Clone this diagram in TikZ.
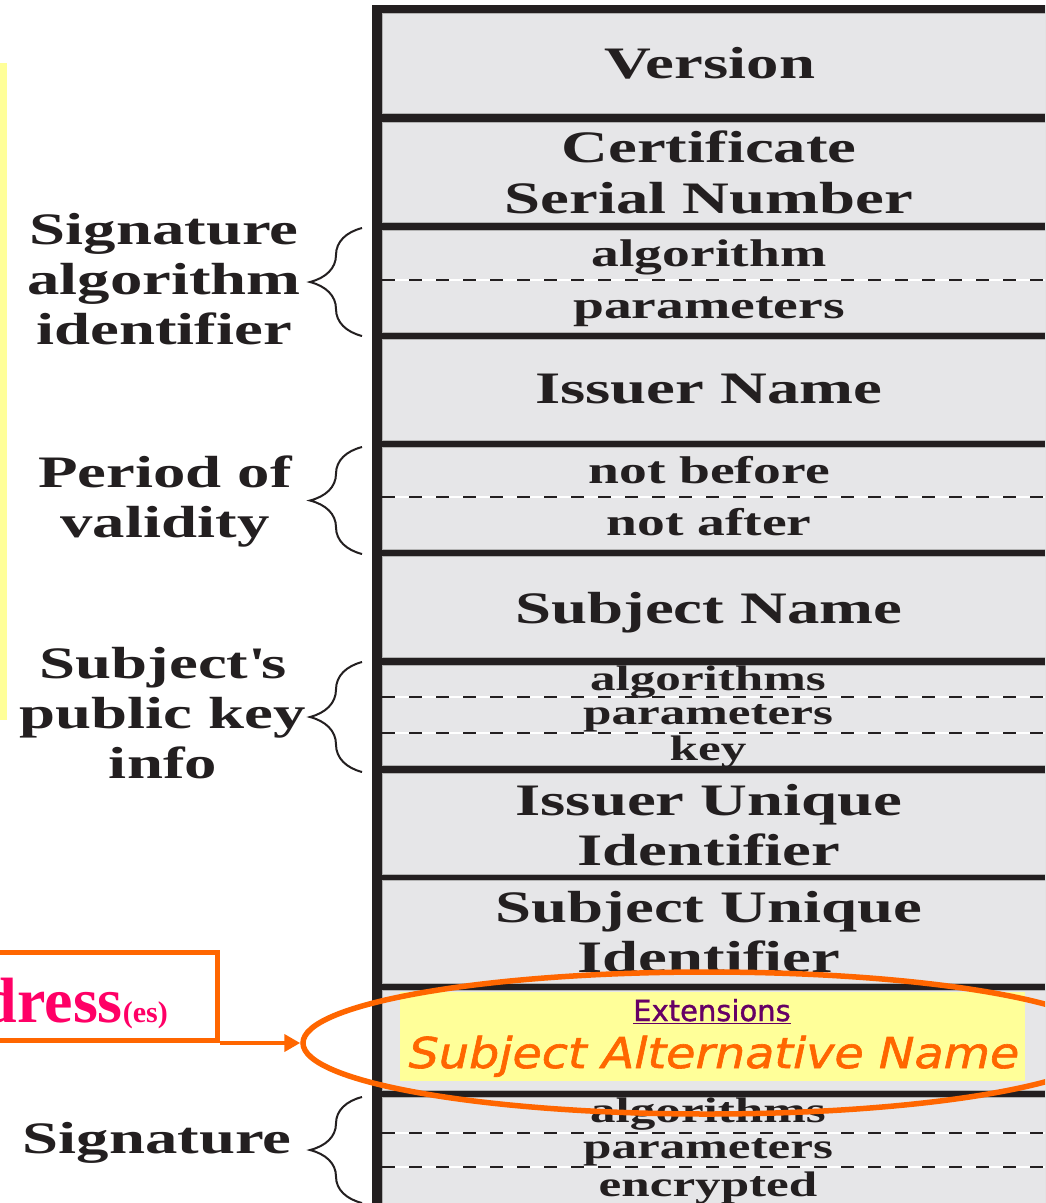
\documentclass[tikz,border=0pt]{standalone}
\usepackage{fontspec}
\newfontfamily\tabfont[FakeStretch=1.44]{Liberation Serif}
\newfontfamily\plainfont{Liberation Serif}
\newfontfamily\extfont[FakeBold=1.2]{DejaVu Sans}
\newfontfamily\sanfont[FakeStretch=1.12, FakeBold=1.5]{DejaVu Sans}
\usetikzlibrary{positioning,arrows.meta,shapes.geometric,decorations.pathreplacing}

\definecolor{ink}{HTML}{231F20}
\definecolor{cellgray}{HTML}{E6E6E8}
\definecolor{hiyellow}{HTML}{FFFF99}
\definecolor{markorange}{HTML}{FF6600}
\definecolor{addrpink}{HTML}{FF0066}
\definecolor{extpurple}{HTML}{660066}

\begin{document}
\begin{tikzpicture}[x=1pt, y=-1pt,
  cell/.style={fill=cellgray, draw=gray!60, line width=1pt},
  bigtext/.style={font=\tabfont\bfseries\fontsize{45}{50}\selectfont, text=ink, inner sep=0, anchor=base, align=center},
  midtext/.style={font=\tabfont\bfseries\fontsize{38.6}{40}\selectfont, text=ink, inner sep=0, anchor=base},
  smalltext/.style={font=\tabfont\bfseries\fontsize{35.5}{36}\selectfont, text=ink, inner sep=0, anchor=base},
  curly/.style={decorate, decoration={brace, amplitude=52pt}, line width=2pt, draw=ink},
  dashsep/.style={ink, line width=2pt, dash pattern=on 13pt off 14pt},
  orangeline/.style={draw=markorange, line width=5.5pt},
  exthead/.style={font=\extfont\fontsize{29}{32}\selectfont, text=extpurple, inner sep=0, anchor=base},
  extname/.style={font=\sanfont\itshape\fontsize{42.5}{46}\selectfont, text=markorange, inner sep=0, anchor=base},
  addrtext/.style={font=\plainfont\bfseries\fontsize{64}{70}\selectfont, text=addrpink, inner sep=0, anchor=base east}
]
\useasboundingbox (0,0) rectangle (1045,1203);
\clip (0,0) rectangle (1045,1203);

% yellow strip at the left edge
\fill[hiyellow] (0,63) rectangle (7,720);

% certificate fields
\fill[ink] (372,5) rectangle (1080,1230);
\foreach \ya/\yb in {13/113,122/222,230/332,339/440,447/549,556/657,665/765,773/874,880/983,990/1090,1097/1230}
  \draw[cell] (382,\ya) rectangle (1080,\yb);
\foreach \y in {280,497,697,733,1133,1167}{
  \draw[white, line width=2pt] (382,\y) -- (1080,\y);
  \draw[dashsep] (382,\y) -- (1080,\y);
}

\node[bigtext] (ver) at (710,78) {Version};
\node[bigtext] (cert) at (709,162) {Certificate};
\node[bigtext] (serial) at (709,213) {Serial Number};
\node[midtext] (sigalg) at (709,266) {algorithm};
\node[midtext] (sigpar) at (709,318) {parameters};
\node[bigtext] (issuer) at (709,403) {Issuer Name};
\node[midtext] (notbef) at (709,483) {not before};
\node[midtext] (notaft) at (709,535) {not after};
\node[bigtext] (subj) at (709,623) {Subject Name};
\node[smalltext] (pkalg) at (708,690) {algorithms};
\node[smalltext] (pkpar) at (708,724) {parameters};
\node[smalltext] (pkkey) at (708,760) {key};
\node[bigtext] (iuid) at (709,815) {Issuer Unique};
\node[bigtext] (iuidb) at (709,865) {Identifier};
\node[bigtext] (suid) at (709,922) {Subject Unique};
\node[bigtext] (suidb) at (709,972) {Identifier};
\node[smalltext] (sgalg) at (708,1122) {algorithms};
\node[smalltext] (sgpar) at (708,1158) {parameters};
\node[smalltext] (sgenc) at (708,1196) {encrypted};

% labels and braces on the left
\node[bigtext] (sigid) at (164,344) {Signature\\algorithm\\identifier};
\node[bigtext] (period) at (165,537) {Period of\\validity};
\node[bigtext] (pkinfo) at (163,778) {Subject\textquotesingle s\\public key\\info};
\node[bigtext] (sign) at (157,1153) {Signature};

\draw[curly] (362,336) -- (362,228);
\draw[curly] (362,554) -- (362,447);
\draw[curly] (362,772) -- (362,662);
\draw[curly] (362,1203) -- (362,1097);

% extensions field
\node[fill=hiyellow, minimum width=625, minimum height=89, inner sep=0] (extbox) at (712.5,1036.5) {};
\node[exthead] (exttitle) at (712,1021) {\underline{Extensions}};
\node[extname] (sanlbl) at (714,1068) {Subject Alternative Name};
\node[orangeline, ellipse, minimum width=808, minimum height=142, inner sep=0] (sanring) at (707,1043) {};

% address box
\node[orangeline, minimum width=270, minimum height=88, anchor=south east, inner sep=0] (addrbox) at (220,1043) {};
\node[addrtext] (addr) at (168,1022) {dress{\fontsize{30}{32}\selectfont(es)}};
\draw[markorange, line width=4pt, -{Triangle[length=16pt,width=17pt]}] (addrbox.south east) -- (sanring.west);
\end{tikzpicture}
\end{document}
